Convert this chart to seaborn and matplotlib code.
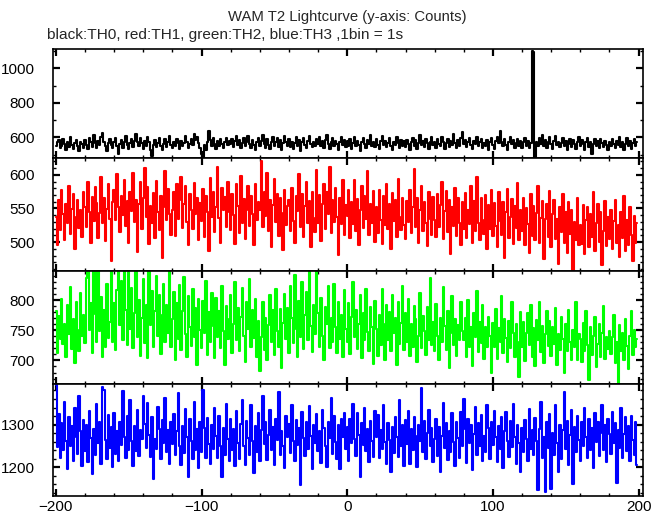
import numpy as np
import pandas as pd
import seaborn as sns
import matplotlib
matplotlib.use('Agg')
import matplotlib.pyplot as plt
from matplotlib.ticker import MultipleLocator

# time bins (1 s), -200 .. 199
t0 = -200
nbins = 400

th0 = [
    548,570,582,536,552,591,560,529,573,545,601,558,534,566,587,549,520,575,561,540,
    583,556,530,597,571,545,612,566,538,580,553,599,627,574,548,519,566,590,557,536,
    571,596,548,505,562,584,539,575,610,557,531,568,592,546,580,622,575,551,598,565,
    533,580,547,603,570,528,491,556,584,541,569,598,552,527,563,589,544,572,606,558,
    537,575,551,593,566,530,581,548,569,610,574,539,562,591,555,620,583,604,567,540,
    506,488,558,529,574,636,582,547,598,560,531,576,551,589,564,538,570,597,553,581,
    560,593,541,577,606,555,582,536,569,598,547,574,610,563,540,585,557,529,572,594,
    551,578,612,563,540,589,557,531,574,602,548,571,596,545,583,529,566,607,572,550,
    591,546,573,534,567,599,552,585,523,570,596,558,537,581,605,562,542,575,551,588,
    563,602,548,577,540,586,611,559,532,573,598,549,581,560,527,574,603,556,585,542,
    576,551,589,530,566,603,547,579,555,521,571,597,560,538,584,562,615,550,574,545,
    590,558,534,577,608,553,581,541,569,596,548,529,574,557,601,565,538,587,552,579,
    545,583,561,527,572,598,550,586,535,569,612,557,578,543,591,568,533,575,604,556,
    572,538,591,562,549,601,574,530,566,589,546,578,557,619,569,540,583,552,597,629,
    561,585,542,570,598,553,531,577,560,604,547,574,589,536,566,551,583,527,571,595,
    556,532,579,603,566,638,572,548,591,555,528,574,600,561,585,540,567,593,551,578,
    539,574,596,552,581,536,565,1102,1094,488,573,548,596,563,611,552,584,537,570,599,
    560,532,581,606,553,575,541,569,597,550,578,526,563,592,545,587,559,533,574,602,
    551,586,563,529,574,598,545,570,505,561,589,552,576,537,593,567,541,580,555,526,
    572,548,591,561,537,580,556,602,545,571,528,563,597,550,576,534,567,589,548,573,
]

th1 = [
    537,496,562,518,578,541,503,556,529,584,512,549,571,490,538,563,521,547,508,575,
    552,523,589,544,498,567,531,582,558,506,543,597,528,565,501,549,586,535,472,559,
    578,533,601,552,515,569,540,593,524,561,498,575,546,603,530,562,485,556,589,520,
    566,610,538,582,497,554,529,573,506,591,545,518,568,477,552,605,533,579,542,511,
    548,574,509,586,535,562,597,521,556,583,530,495,571,547,519,588,541,566,503,558,
    532,579,507,569,544,486,596,538,575,515,552,612,536,499,581,548,567,522,590,544,
    518,571,540,497,586,553,513,598,529,564,505,548,583,524,569,541,495,587,533,560,
    547,621,522,574,539,603,516,563,492,555,594,530,571,509,566,543,488,578,526,553,
    563,517,580,532,499,568,546,601,523,572,507,554,589,528,561,493,575,536,515,607,
    528,570,502,556,586,519,575,541,612,513,562,530,581,538,481,566,527,593,510,555,
    539,578,506,559,527,592,516,564,495,548,583,521,569,534,605,511,557,529,576,500,
    552,514,578,533,497,569,526,586,519,557,489,573,531,563,508,594,537,518,566,525,
    505,561,530,578,514,552,609,523,566,498,547,583,517,559,528,494,574,535,511,567,
    533,507,571,522,555,589,504,546,576,515,562,483,552,524,581,509,566,529,496,559,
    520,573,506,548,527,584,498,561,517,597,529,503,566,533,512,570,489,555,519,578,
    509,558,524,492,575,531,510,560,476,545,579,506,538,564,497,553,521,588,503,547,
    516,566,495,551,527,484,572,509,554,503,543,583,498,536,561,475,534,557,508,576,
    492,541,563,504,535,467,552,515,571,499,544,484,560,512,547,458,530,503,566,495,
    526,497,555,482,533,552,493,541,508,575,486,529,557,500,545,466,516,561,494,538,
    504,547,489,531,562,498,525,478,544,506,568,487,533,495,552,510,472,539,499,528,
]

th2 = [
    781,712,773,736,802,728,760,705,791,744,822,719,768,695,797,751,716,812,740,776,
    729,836,866,750,795,713,858,777,731,872,748,805,706,783,722,826,737,764,849,731,
    795,718,817,870,758,831,734,865,784,725,846,752,820,721,779,868,738,800,708,771,
    834,729,791,704,866,759,815,723,782,840,741,809,710,775,826,730,792,746,853,722,
    768,813,700,795,735,825,718,781,838,744,705,806,755,724,818,738,786,693,801,750,
    721,798,746,832,709,780,730,812,757,704,803,739,782,720,824,749,692,790,735,768,
    808,712,761,829,733,787,716,772,820,741,697,796,752,834,723,784,737,802,706,765,
    682,739,797,718,771,701,758,808,730,783,709,818,749,722,785,688,762,810,735,787,
    713,823,771,729,842,752,706,798,738,830,719,775,813,733,851,757,714,792,744,872,
    778,722,804,740,700,789,761,823,721,771,730,827,756,712,797,735,776,705,816,752,
    730,795,711,772,829,739,783,719,760,808,704,779,734,818,747,716,788,755,694,799,
    752,708,776,726,818,760,700,791,733,780,716,809,746,771,692,797,728,762,824,718,
    779,731,802,707,760,723,790,768,697,741,811,720,773,748,709,789,734,836,725,763,
    715,794,741,700,770,731,822,757,717,781,688,746,806,725,768,707,759,733,797,748,
    734,770,706,800,722,755,691,779,738,815,714,764,729,791,702,756,723,772,740,680,
    762,722,785,703,754,731,806,712,768,737,697,765,720,796,746,706,760,731,672,780,
    722,763,699,745,778,725,792,706,753,690,767,733,797,714,757,695,743,782,724,765,
    708,755,727,787,693,744,718,772,736,680,760,715,784,731,701,751,723,796,700,743,
    735,697,762,716,781,726,668,756,709,741,772,689,728,760,706,745,790,702,738,719,
    749,710,739,776,695,731,662,758,716,746,700,768,724,686,741,782,709,750,722,736,
]

th3 = [
    1392,1248,1325,1221,1303,1240,1352,1262,1197,1317,1251,1296,1216,1338,1270,1232,1366,1285,1204,1311,
    1239,1298,1213,1331,1268,1185,1289,1229,1349,1258,1305,1207,1388,1382,1265,1220,1322,1246,1294,1201,
    1328,1231,1284,1215,1306,1252,1378,1271,1223,1320,1240,1357,1262,1203,1297,1238,1335,1226,1288,1267,
    1368,1301,1245,1350,1276,1225,1318,1172,1266,1244,1341,1290,1219,1311,1256,1362,1236,1287,1208,1305,
    1255,1325,1228,1286,1374,1251,1205,1296,1233,1336,1270,1178,1312,1262,1220,1353,1241,1290,1199,1307,
    1236,1382,1293,1223,1315,1254,1207,1298,1243,1340,1274,1222,1319,1250,1177,1291,1230,1349,1266,1214,
    1313,1240,1290,1203,1331,1258,1219,1301,1358,1249,1206,1308,1269,1229,1345,1261,1186,1296,1237,1327,
    1214,1288,1367,1255,1307,1218,1276,1335,1240,1294,1205,1314,1264,1377,1228,1286,1251,1199,1320,1271,
    1301,1233,1347,1261,1214,1311,1252,1293,1158,1330,1268,1226,1306,1244,1344,1273,1195,1299,1256,1324,
    1238,1285,1210,1334,1292,1250,1201,1305,1268,1362,1231,1319,1259,1219,1300,1197,1313,1272,1328,1243,
    1295,1216,1314,1256,1348,1266,1227,1326,1276,1178,1303,1253,1339,1239,1290,1213,1309,1262,1224,1333,
    1270,1322,1222,1288,1243,1345,1260,1207,1304,1265,1190,1294,1234,1317,1270,1225,1357,1250,1298,1204,
    1310,1255,1331,1209,1289,1240,1318,1274,1200,1299,1262,1385,1235,1308,1219,1281,1335,1251,1293,1212,
    1266,1314,1226,1295,1188,1273,1350,1245,1303,1218,1285,1236,1326,1260,1203,1307,1268,1222,1330,1250,
    1360,1289,1211,1312,1256,1298,1193,1278,1341,1230,1304,1251,1323,1216,1273,1237,1346,1292,1220,1306,
    1252,1331,1270,1213,1297,1242,1318,1198,1286,1329,1261,1224,1308,1248,1349,1272,1209,1300,1257,1190,
    1293,1235,1310,1266,1215,1336,1244,1287,1228,1315,1262,1148,1290,1352,1222,1270,1142,1306,1246,1325,
    1150,1281,1230,1347,1257,1190,1299,1219,1287,1376,1243,1308,1205,1276,1335,1160,1294,1236,1321,1264,
    1215,1305,1249,1338,1272,1223,1312,1241,1292,1199,1328,1260,1306,1226,1281,1345,1240,1299,1212,1314,
    1278,1231,1330,1256,1303,1163,1287,1245,1339,1222,1277,1318,1238,1296,1214,1320,1265,1229,1307,1205,
]

series = [th0, th1, th2, th3]
colors = ['black', '#ff0000', '#00ff00', '#0000ff']
ylims = [(480, 1112), (457, 625), (661, 848), (1133, 1395)]
ymajor = [200, 50, 50, 100]
yminor = [100, 10, 10, 20]

sns.set_style('ticks')
plt.rcParams['font.family'] = ['Liberation Sans', 'DejaVu Sans']

W, H = 669, 515
fig = plt.figure(figsize=(W / 100, H / 100), dpi=100)

# panel boundaries in pixels (from top)
edges = [49, 158, 271, 384, 496]
left, right = 53, 643

time = np.arange(t0, t0 + nbins)

for i in range(4):
    top, bot = edges[i], edges[i + 1]
    ax = fig.add_axes([left / W, 1 - bot / H, (right - left) / W, (bot - top) / H])
    df = pd.DataFrame({'t': time, 'counts': series[i]})
    sns.lineplot(data=df, x='t', y='counts', ax=ax, color=colors[i],
                 drawstyle='steps-mid', linewidth=1.5, estimator=None)
    ax.set_xlim(-202, 203)
    ax.set_ylim(*ylims[i])
    ax.set_xlabel('')
    ax.set_ylabel('')
    ax.xaxis.set_major_locator(MultipleLocator(100))
    ax.xaxis.set_minor_locator(MultipleLocator(20))
    ax.yaxis.set_major_locator(MultipleLocator(ymajor[i]))
    ax.yaxis.set_minor_locator(MultipleLocator(yminor[i]))
    ax.tick_params(which='both', direction='in', top=True, right=True,
                   labelsize=11, colors='black')
    ax.tick_params(which='major', length=5, width=1.6)
    ax.tick_params(which='minor', length=2.5, width=1.0)
    ax.tick_params(axis='y', pad=13)
    ax.tick_params(axis='x', pad=3)
    for s in ax.spines.values():
        s.set_linewidth(1.2)
        s.set_color('black')
    if i < 3:
        ax.tick_params(axis='x', labelbottom=False)

fig.text(347 / W, 1 - 17 / H, 'WAM T2 Lightcurve (y-axis: Counts)',
         ha='center', va='center', fontsize=10.7)
fig.text(47 / W, 1 - 35 / H, 'black:TH0, red:TH1, green:TH2, blue:TH3 ,1bin = 1s',
         ha='left', va='center', fontsize=11.1)

fig.savefig('out.png', dpi=100)
